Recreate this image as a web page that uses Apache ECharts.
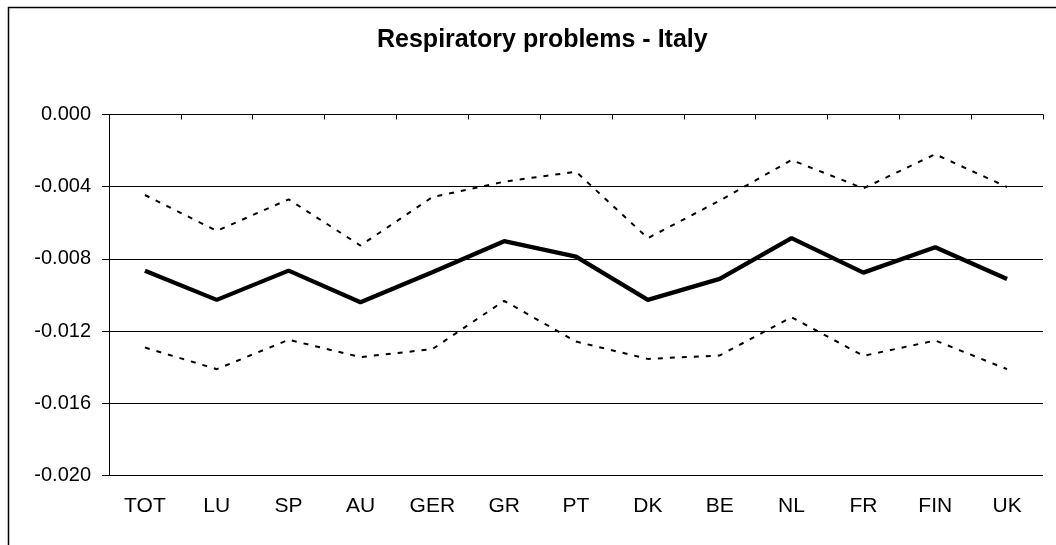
<!DOCTYPE html>
<html>
<head>
<meta charset="utf-8">
<script src="https://cdn.jsdelivr.net/npm/echarts@6/dist/echarts.min.js"></script>
<style>
html,body{margin:0;padding:0;background:#fff;}
#chart{width:1056px;height:545px;}
</style>
</head>
<body>
<div id="chart"></div>
<script>
var categories = ['TOT','LU','SP','AU','GER','GR','PT','DK','BE','NL','FR','FIN','UK'];
var estimate = [-0.00866,-0.01027,-0.00865,-0.01040,-0.00874,-0.00702,-0.00787,-0.01027,-0.00911,-0.00685,-0.00876,-0.00735,-0.00911];
var upperBound = [-0.00446,-0.00645,-0.00470,-0.00726,-0.00458,-0.00372,-0.00317,-0.00685,-0.00477,-0.00252,-0.00409,-0.00220,-0.00402];
var lowerBound = [-0.01291,-0.01411,-0.01248,-0.01344,-0.01300,-0.01032,-0.01258,-0.01354,-0.01335,-0.01123,-0.01337,-0.01252,-0.01411];
var yTicks = {min:-0.020, max:0, interval:0.004};
var titleText = 'Respiratory problems - Italy';

var chart = echarts.init(document.getElementById('chart'), null, {renderer:'canvas'});
var FONT = '"Liberation Sans", Arial, sans-serif';
chart.setOption({
  backgroundColor:'#fff',
  animation:false,
  title:{
    text:titleText, left:372, top:23,
    textStyle:{fontFamily:FONT,fontSize:25,fontWeight:'bold',color:'#000'}
  },
  graphic:[{
    type:'rect', shape:{x:8.5,y:7.5,width:1200,height:700},
    style:{fill:null,stroke:'#000',lineWidth:1.5}, silent:true, z:-1
  }],
  grid:{left:109, right:13, top:114.5, bottom:69.5, containLabel:false},
  xAxis:[{
    type:'category', data:categories, position:'bottom', boundaryGap:true,
    axisLine:{show:false}, axisTick:{show:false},
    axisLabel:{fontFamily:FONT,fontSize:21,color:'#000',margin:20,interval:0}
  },{
    type:'category', data:categories, position:'top', boundaryGap:true,
    axisLine:{show:true,onZero:false,lineStyle:{color:'#000',width:1}},
    axisTick:{show:true,inside:true,length:5,lineStyle:{color:'#000'}},
    axisLabel:{show:false}
  }],
  yAxis:{
    type:'value', min:yTicks.min, max:yTicks.max, interval:yTicks.interval,
    axisLine:{show:true,lineStyle:{color:'#000',width:1}},
    axisTick:{show:true,length:7,lineStyle:{color:'#000'}},
    splitLine:{show:true,lineStyle:{color:'#000',width:1}},
    axisLabel:{fontFamily:FONT,fontSize:20,color:'#000',margin:18,
      formatter:function(v){return v.toFixed(3);}}
  },
  series:[
    {type:'line', data:upperBound, xAxisIndex:0, symbol:'none',
     lineStyle:{color:'#000',width:2,type:[5,7]}},
    {type:'line', data:lowerBound, xAxisIndex:0, symbol:'none',
     lineStyle:{color:'#000',width:2,type:[5,7]}},
    {type:'line', data:estimate, xAxisIndex:0, symbol:'none',
     lineStyle:{color:'#000',width:4.3}}
  ]
});
</script>
</body>
</html>
